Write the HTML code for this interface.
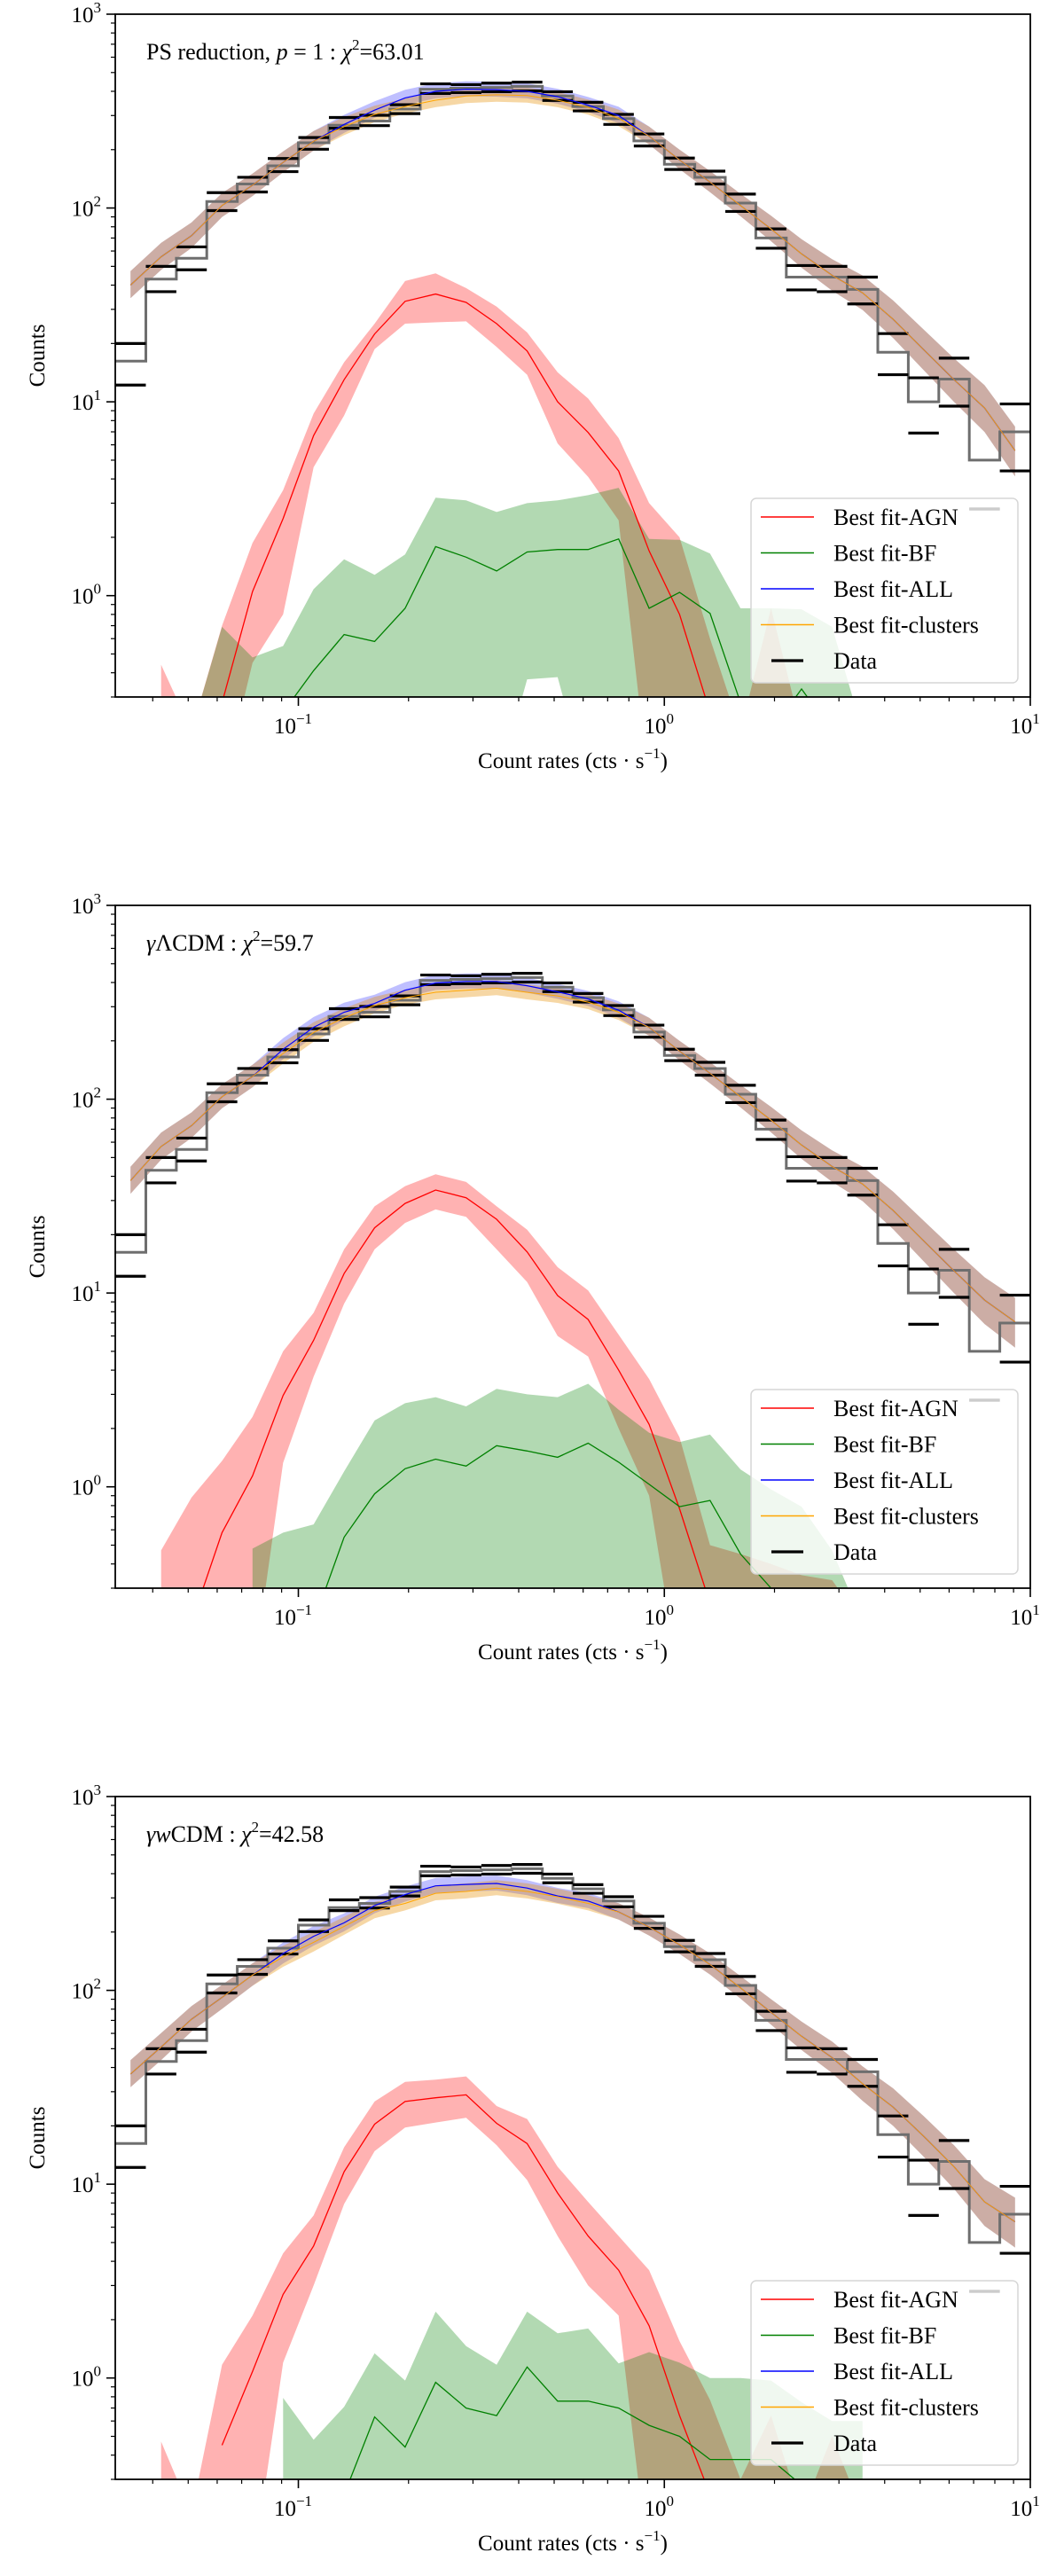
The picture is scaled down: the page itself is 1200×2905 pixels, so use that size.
<!DOCTYPE html>
<html><head><meta charset="utf-8"><title>Count rate distributions</title>
<style>
html,body{margin:0;padding:0;background:#fff;}
svg{display:block;font-family:"Liberation Serif","DejaVu Serif",serif;}
</style></head>
<body>
<svg id="fig" xmlns="http://www.w3.org/2000/svg" width="1200" height="2905" viewBox="0 0 1200 2905"></svg>
<script>
// ---- shared data ----
const binEdges = [0.0316,0.0383,0.0464,0.0562,0.0681,0.0825,0.1,0.1212,0.1468,0.1778,0.2154,0.261,0.3162,0.3831,0.4642,0.5623,0.6813,0.8254,1.0,1.2115,1.4678,1.7783,2.1544,2.6102,3.1623,3.8312,4.6416,5.6234,6.8129,8.2540,10.0];
const dataGray = [16.2,43,55,108,133,165,217,267,281,324,410,415,419,424,378,334,289,222,168,144,106,70,44,44,38,18,10,13.1,5.0,7.0];
const dataHi = [20,50,63,120,144,180,231,293,301,341,437,433,441,446,398,351,304,241,181,155,118,78,50.5,50,44,22.5,13.3,16.8,2.8,9.75];
const dataLo = [12.2,37,48,97,121,154,201,258,266,307,390,394,398,402,359,317,270,209,158,133,96,62,37.8,37,32,13.8,6.9,9.5,2.8,4.4];
const clusErr = [0.18,0.18,0.17,0.16,0.15,0.14,0.13,0.12,0.11,0.1,0.1,0.1,0.1,0.1,0.1,0.1,0.11,0.12,0.13,0.14,0.15,0.17,0.19,0.21,0.23,0.25,0.27,0.29,0.31,0.33];
const yTicks = [1, 10, 100, 1000];
const yTickExp = ["0","1","2","3"];
const xTicks = [0.1, 1, 10];
const xTickExp = ["\u22121","0","1"];

// ---- panel 1: PS reduction ----
const agn1 = [null,null,null,0.28,1.05,2.5,6.7,13,22.4,33,36,32.6,25.3,18.3,10,6.95,4.4,1.7,0.8,0.25,0.05,null,null,null,null,null,null,null,null,null];
const agnHi1 = [null,0.44,0.2,0.7,1.87,3.5,8.7,16,25.3,42,46,38.6,31,22.8,14.2,10.4,6.5,3.0,2.0,0.6,0.2,0.86,0.2,null,null,null,null,null,null,null];
const agnLo1 = [null,0.1,0.1,0.1,0.45,0.8,4.6,8.5,18.7,25.3,25.7,26,19.2,13.8,6.1,4.1,2.45,0.1,0.1,0.1,0.1,0.1,0.1,null,null,null,null,null,null,null];
const bf1 = [null,null,null,null,null,0.25,0.41,0.63,0.58,0.86,1.79,1.58,1.34,1.68,1.73,1.73,1.96,0.86,1.04,0.81,0.28,0.2,0.33,0.2,null,null,null,null,null,null];
const bfHi1 = [null,null,0.2,0.69,0.48,0.55,1.08,1.54,1.28,1.63,3.2,3.1,2.7,3.0,3.1,3.3,3.6,1.96,1.94,1.65,0.86,0.86,0.85,0.69,0.2,null,null,null,null,null];
const bfLo1 = [null,null,0.1,0.1,0.1,0.1,0.1,0.1,0.1,0.1,0.1,0.1,0.1,0.37,0.38,0.1,0.1,0.1,0.1,0.1,0.1,0.1,0.1,0.1,0.1,null,null,null,null,null];
const all1 = [40,56,72,103,131,172,221,270,320,370,400,410,408,400,375,340,300,235,177,136,103,78,58,45,36.5,26.7,18.6,13,9.3,5.6];
const clus1 = [40,56,72,103,131,172,221,263,304,334,360,378,384,380,360,330,290,235,177,136,103,78,58,45,36.5,26.7,18.6,13,9.3,5.6];

// ---- panel 2: gamma LCDM ----
const agn2 = [null,null,0.2,0.58,1.14,2.96,5.7,12.6,21.7,29,34,31,24,16.3,9.7,7.3,4.0,2.1,0.77,0.25,0.05,null,null,null,null,null,null,null,null,null];
const agnHi2 = [null,0.47,0.88,1.36,2.3,5.0,7.9,16.8,28,35.6,41,37.4,28,21.2,13.6,10.3,6.1,3.6,1.8,0.5,0.45,0.4,0.35,0.33,0.2,null,null,null,null,null];
const agnLo2 = [null,0.1,0.1,0.1,0.1,1.33,3.7,8.8,16.8,23,27,24.7,16.8,11.4,6.0,4.7,2.0,0.9,0.1,0.1,0.1,0.1,0.1,0.1,0.1,null,null,null,null,null];
const bf2 = [null,null,null,null,null,null,0.2,0.55,0.92,1.24,1.39,1.28,1.63,1.53,1.42,1.68,1.34,1.03,0.79,0.85,0.45,0.3,0.2,null,null,null,null,null,null,null];
const bfHi2 = [null,null,null,null,0.48,0.58,0.64,1.2,2.2,2.7,2.9,2.6,3.2,3.0,2.9,3.4,2.5,1.9,1.7,1.86,1.23,0.97,0.79,0.47,0.2,null,null,null,null,null];
const bfLo2 = [null,null,null,null,0.1,0.1,0.1,0.1,0.1,0.1,0.1,0.1,0.1,0.1,0.1,0.1,0.1,0.1,0.1,0.1,0.1,0.1,0.1,0.1,0.1,null,null,null,null,null];
const all2 = [38,57,73,103,131,181,235,281,312,365,398,405,405,385,358,329,288,235,177,136,103,78,58,45,36.5,26.7,18.6,13,9.2,7.1];
const clus2 = [38,57,73,103,131,172,221,263,304,334,356,365,374,356,341,317,281,235,177,136,103,78,58,45,36.5,26.7,18.6,13,9.2,7.1];

// ---- panel 3: gamma wCDM ----
const agn3 = [null,null,null,0.45,1.08,2.7,4.8,11.6,20.4,26.7,27.9,28.9,20.6,16.2,9.0,5.4,3.6,1.86,0.64,0.25,0.05,null,null,null,null,null,null,null,null,null];
const agnHi3 = [null,0.47,0.2,1.17,2.1,4.4,6.9,15.5,26.7,33.7,34.6,36,25.3,21.7,12.3,8.1,5.4,3.6,1.55,0.77,0.3,0.64,0.2,0.5,0.2,null,null,null,null,null];
const agnLo3 = [null,0.1,0.1,0.1,0.1,1.2,3.0,7.9,14.8,19.6,20.8,22,15.9,10.5,5.4,3.0,2.1,0.1,0.1,0.1,0.1,0.1,0.1,0.1,0.1,null,null,null,null,null];
const bf3 = [null,null,null,null,null,null,null,0.25,0.63,0.44,0.95,0.7,0.64,1.14,0.76,0.76,0.7,0.57,0.5,0.38,0.38,0.38,0.28,null,null,null,null,null,null,null];
const bfHi3 = [null,null,null,null,null,0.79,0.48,0.71,1.34,0.97,2.2,1.46,1.17,2.2,1.7,1.8,1.19,1.36,1.2,1.0,1.0,0.97,0.75,0.6,0.6,null,null,null,null,null];
const bfLo3 = [null,null,null,null,null,0.1,0.1,0.1,0.1,0.1,0.1,0.1,0.1,0.1,0.1,0.1,0.1,0.1,0.1,0.1,0.1,0.1,0.1,0.1,0.1,null,null,null,null,null];
const all3 = [37,51,71,92,120,155,190,223,274,312,346,352,356,337,307,289,254,212,172,136,103,77,58,45,33,25,17.7,12.3,8.1,6.4];
const clus3 = [37,51,71,92,120,149,177,214,258,281,317,324,337,324,304,281,254,212,172,136,103,77,58,45,33,25,17.7,12.3,8.1,6.4];

const panels = [
  {top:16, name:"ps-reduction", agn:agn1, agnHi:agnHi1, agnLo:agnLo1, bf:bf1, bfHi:bfHi1, bfLo:bfLo1, all:all1, clus:clus1,
   title:[["PS reduction, ",""],["p","i"],[" = 1 : ",""],["\u03C7","i"],["2","s"],["=63.01",""]]},
  {top:1021, name:"gamma-lcdm", agn:agn2, agnHi:agnHi2, agnLo:agnLo2, bf:bf2, bfHi:bfHi2, bfLo:bfLo2, all:all2, clus:clus2,
   title:[["\u03B3","i"],["\u039BCDM : ",""],["\u03C7","i"],["2","s"],["=59.7",""]]},
  {top:2026, name:"gamma-wcdm", agn:agn3, agnHi:agnHi3, agnLo:agnLo3, bf:bf3, bfHi:bfHi3, bfLo:bfLo3, all:all3, clus:clus3,
   title:[["\u03B3","i"],["w","i"],["CDM : ",""],["\u03C7","i"],["2","s"],["=42.58",""]]}
];

const NS = "http://www.w3.org/2000/svg";
const W = 1032, H = 770, LEFT = 130;
const XMIN = binEdges[0], XMAX = 10, YMIN = 0.3, YMAX = 1000;
function xs(v){ return (Math.log10(v)-Math.log10(XMIN))/(Math.log10(XMAX)-Math.log10(XMIN))*W; }
function ys(v){ return (Math.log10(YMAX)-Math.log10(v))/(Math.log10(YMAX)-Math.log10(YMIN))*H; }
function mk(tag, attrs, parent){ const e=document.createElementNS(NS,tag); for(const k in attrs) e.setAttribute(k,attrs[k]); parent.appendChild(e); return e; }
const centers = binEdges.slice(0,-1).map((e,i)=>Math.sqrt(e*binEdges[i+1]));

function bandPath(lo, hi){
  const idx=[]; for(let i=0;i<centers.length;i++) if(hi[i]!=null && lo[i]!=null) idx.push(i);
  if(!idx.length) return "";
  let d=""; idx.forEach((i,j)=>{ d+=(j?"L":"M")+xs(centers[i]).toFixed(1)+","+ys(hi[i]).toFixed(1); });
  for(let j=idx.length-1;j>=0;j--){ const i=idx[j]; d+="L"+xs(centers[i]).toFixed(1)+","+ys(lo[i]).toFixed(1); }
  return d+"Z";
}
function linePath(v){
  let d="", pen=false;
  for(let i=0;i<centers.length;i++){ if(v[i]==null){pen=false;continue;} d+=(pen?"L":"M")+xs(centers[i]).toFixed(1)+","+ys(v[i]).toFixed(1); pen=true; }
  return d;
}

const svg = document.getElementById("fig");
panels.forEach((p, pi)=>{
  const g = mk("g",{transform:`translate(${LEFT},${p.top})`},svg);
  
  
  const cp = mk("clipPath",{id:"clip"+pi},g);
  mk("rect",{x:0,y:0,width:W,height:H},cp);
  const plot = mk("g",{"clip-path":`url(#clip${pi})`},g);
  
  

  const rb = mk("path",{d:bandPath(p.agnLo,p.agnHi),fill:"#ff0000","fill-opacity":0.3},plot);
  
  
  const gb = mk("path",{d:bandPath(p.bfLo,p.bfHi),fill:"#008000","fill-opacity":0.3},plot);
  
  
  const allHi = p.all.map((v,i)=>v*(1+clusErr[i])), allLo = p.all.map((v,i)=>v*(1-clusErr[i]*0.8));
  const bb = mk("path",{d:bandPath(allLo,allHi),fill:"#0000ff","fill-opacity":0.25},plot);
  
  
  const cHi = p.clus.map((v,i)=>v*(1+clusErr[i])), cLo = p.clus.map((v,i)=>v*(1-clusErr[i]*0.8));
  const ob = mk("path",{d:bandPath(cLo,cHi),fill:"#ffa500","fill-opacity":0.3},plot);
  
  
  const ob2 = mk("path",{d:bandPath(cLo,cHi),fill:"#8b4513","fill-opacity":0.08},plot);
  
  

  // gray step histogram
  let sd = "M"+xs(binEdges[0]).toFixed(1)+","+ys(dataGray[0]).toFixed(1);
  for(let i=0;i<dataGray.length;i++){
    if(i>0) sd += "V"+ys(dataGray[i]).toFixed(1);
    sd += "H"+xs(binEdges[i+1]).toFixed(1);
  }
  const st = mk("path",{d:sd,fill:"none",stroke:"#6e6e6e","stroke-width":3},plot);
  
  
  // data bars
  for(let i=0;i<dataHi.length;i++){
    [dataHi[i],dataLo[i]].forEach((v,j)=>{
      const l = mk("line",{x1:xs(binEdges[i]),x2:xs(binEdges[i+1]),y1:ys(v),y2:ys(v),stroke:"#000","stroke-width":3.2},plot);
      
      
    });
  }
  const lines = [[p.agn,"#ff0000","agn-line",1.3],[p.bf,"#008000","bf-line",1.3],[p.all,"#0000ff","all-line",1.2],[p.clus,"#ffa500","clusters-line",1.0]];
  lines.forEach(([v,c,n,w])=>{
    const l = mk("path",{d:linePath(v),fill:"none",stroke:c,"stroke-width":w},plot);
    
    
  });

  // axes frame
  const fr = mk("rect",{x:0,y:0,width:W,height:H,fill:"none",stroke:"#000","stroke-width":1.8},g);
  
  

  // y ticks
  for(let d=-1; d<3; d++){
    for(let m=1;m<10;m++){
      const v = m*Math.pow(10,d);
      if(v<YMIN-1e-9 || v>YMAX+1e-9) continue;
      const major = (m===1);
      const t = mk("line",{x1:0,x2:major?-10:-5,y1:ys(v),y2:ys(v),stroke:"#000","stroke-width":major?1.6:1.2},g);
      
      
    }
  }
  const ytm = mk("line",{x1:0,x2:-10,y1:ys(1000),y2:ys(1000),stroke:"#000","stroke-width":1.6},g);
  
  
  yTicks.forEach((v,i)=>{
    const t = mk("text",{x:-16,y:ys(v)+9,"text-anchor":"end","font-size":25},g);
    
    
    t.appendChild(document.createTextNode("10"));
    const s = mk("tspan",{dy:-11,"font-size":17},t);
    s.textContent = yTickExp[i];
  });
  // x ticks
  for(let d=-2; d<1; d++){
    for(let m=1;m<10;m++){
      const v = m*Math.pow(10,d);
      if(v<XMIN || v>XMAX+1e-9) continue;
      const major=(m===1);
      const t = mk("line",{x1:xs(v),x2:xs(v),y1:H,y2:H+(major?10:5),stroke:"#000","stroke-width":major?1.6:1.2},g);
      
      
    }
  }
  const xtm = mk("line",{x1:xs(10),x2:xs(10),y1:H,y2:H+10,stroke:"#000","stroke-width":1.6},g);
  
  
  xTicks.forEach((v,i)=>{
    const t = mk("text",{x:xs(v)-6,y:H+41,"text-anchor":"middle","font-size":25},g);
    
    
    t.appendChild(document.createTextNode("10"));
    const s = mk("tspan",{dy:-11,"font-size":17},t);
    s.textContent = xTickExp[i];
  });
  // axis labels
  const xl = mk("text",{x:W/2,y:H+80,"text-anchor":"middle","font-size":25},g);
  
  
  xl.appendChild(document.createTextNode("Count rates (cts \u00B7 s"));
  const xs1 = mk("tspan",{dy:-11,"font-size":17},xl); xs1.textContent="\u22121";
  const xs2 = mk("tspan",{dy:11},xl); xs2.textContent=")";
  const yl = mk("text",{x:0,y:0,"text-anchor":"middle","font-size":25,transform:`translate(-80,${H/2}) rotate(-90)`},g);
  
  
  yl.textContent = "Counts";
  // title
  const tt = mk("text",{x:35,y:51,"font-size":26},g);
  
  
  let sup=false;
  p.title.forEach(([s,st])=>{
    const ts = mk("tspan",{},tt);
    if(st==="i") ts.setAttribute("font-style","italic");
    if(st==="s"){ ts.setAttribute("dy",-11); ts.setAttribute("font-size",17); sup=true; }
    else if(sup){ ts.setAttribute("dy",11); sup=false; }
    ts.textContent = s;
  });
  // legend
  const lg = mk("g",{transform:"translate(717,546)"},g);
  
  
  const lr = mk("rect",{x:0,y:0,width:301,height:208,rx:6,fill:"#fff","fill-opacity":0.8,stroke:"#d6d6d6","stroke-width":1.5},lg);
  
  
  const entries = [["Best fit-AGN","#ff0000",1.5],["Best fit-BF","#008000",1.5],["Best fit-ALL","#0000ff",1.5],["Best fit-clusters","#ffa500",1.5],["Data","#000",3.2]];
  entries.forEach(([lab,c,w],i)=>{
    const cy = 21+i*40.5;
    const e = mk("g",{},lg);
    
    
    const x1 = i===4?23:11, x2 = i===4?59:71;
    mk("line",{x1:x1,x2:x2,y1:cy,y2:cy,stroke:c,"stroke-width":w},e);
    const t = mk("text",{x:93,y:cy+9,"font-size":26},e);
    t.textContent = lab;
  });
});
</script>
</body></html>
